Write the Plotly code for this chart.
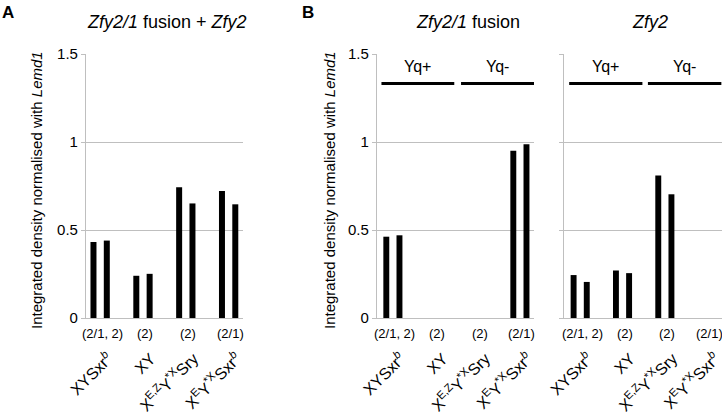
import plotly.graph_objects as go

# ---------------- data ----------------
genotypes = [
    "XYSxr<sup><i>b</i></sup>",
    "XY",
    "X<sup>E,Z</sup>Y<sup>*X</sup>Sry",
    "X<sup>E</sup>Y<sup>*X</sup>Sxr<sup><i>b</i></sup>",
]
counts_A = ["(2/1, 2)", "(2)", "(2)", "(2/1)"]
counts_B = ["(2/1, 2)", "(2)", "(2)", "(2/1)"]

# Panel A: Zfy2/1 fusion + Zfy2 (two replicates)
A_rep1 = [0.432, 0.240, 0.743, 0.722]
A_rep2 = [0.440, 0.251, 0.651, 0.646]
# Panel B left: Zfy2/1 fusion
Bf_rep1 = [0.462, 0.0, 0.0, 0.950]
Bf_rep2 = [0.470, 0.0, 0.0, 0.987]
# Panel B right: Zfy2
Bz_rep1 = [0.244, 0.270, 0.810, 0.0]
Bz_rep2 = [0.205, 0.255, 0.703, 0.0]

yticks = [0, 0.5, 1, 1.5]
ytick_text = ["0", "0.5", "1", "1.5"]
yq_groups = [("Yq+", 0, 1), ("Yq-", 2, 3)]

FONT = "Liberation Sans, Arial, sans-serif"
GRID = "#bfbfbf"

fig = go.Figure()
idx = list(range(len(genotypes)))

panels = [
    ("x", "y", A_rep1, A_rep2),
    ("x2", "y2", Bf_rep1, Bf_rep2),
    ("x3", "y3", Bz_rep1, Bz_rep2),
]
for xa, ya, r1, r2 in panels:
    for r in (r1, r2):
        fig.add_trace(go.Bar(x=idx, y=r, xaxis=xa, yaxis=ya, marker_color="black",
                             marker_line_width=0, showlegend=False, hoverinfo="skip"))

ydom = [0.2392, 0.8708]
xdoms = [[0.119, 0.3366], [0.522, 0.7396], [0.781, 1.0]]
xranges = [[-0.332, 3.336], [-0.378, 3.333], [-0.385, 3.35]]

layout = dict(
    width=722, height=418,
    margin=dict(l=0, r=0, t=0, b=0, autoexpand=False),
    paper_bgcolor="white", plot_bgcolor="white",
    barmode="group", bargap=0.378, bargroupgap=0.55,
    font=dict(family=FONT, color="black"),
)
for i in range(3):
    sx = "" if i == 0 else str(i + 1)
    layout["xaxis" + sx] = dict(
        domain=xdoms[i], range=xranges[i], anchor="y" + sx, automargin=False,
        tickmode="array", tickvals=idx, ticktext=genotypes, tickangle=-45,
        tickfont=dict(size=16, family=FONT, color="black"),
        ticks="", showgrid=False, zeroline=False,
        showline=True, linecolor=GRID, linewidth=1,
        ticklabelstandoff=24, ticklabelshift=8, ticklabeloverflow="allow",
    )
    layout["yaxis" + sx] = dict(
        domain=ydom, range=[0, 1.5], anchor="x" + sx, automargin=False,
        tickmode="array", tickvals=yticks, ticktext=ytick_text,
        showticklabels=(i != 2),
        tickfont=dict(size=15, family=FONT, color="black"),
        showgrid=True, gridcolor=GRID, gridwidth=1,
        zeroline=False, showline=True, linecolor=GRID, linewidth=1,
        ticks="outside", ticklen=4, tickcolor=GRID,
    )
fig.update_layout(**layout)

annotations = []
# count labels
for i, cnts in enumerate([counts_A, counts_B, counts_B]):
    sx = "" if i == 0 else str(i + 1)
    for j, c in enumerate(cnts):
        annotations.append(dict(x=j, y=0.201, xref="x" + sx, yref="paper", text=c,
                                showarrow=False, xshift=2, xanchor="center", yanchor="middle",
                                font=dict(size=13, family=FONT, color="black")))

# titles
titles = [
    (167 / 722, "<i>Zfy2/1</i> fusion + <i>Zfy2</i>"),
    (468 / 722, "<i>Zfy2/1</i> fusion"),
    (650 / 722, "<i>Zfy2</i>"),
]
for x, t in titles:
    annotations.append(dict(x=x, y=1 - 22 / 418, xref="paper", yref="paper", text=t,
                            xanchor="center", yanchor="middle",
                            showarrow=False, font=dict(size=18, family=FONT, color="black")))

# panel letters
for x, t in [(0.0, "A"), (300 / 722, "B")]:
    annotations.append(dict(x=x, y=1 - 1 / 418, xref="paper", yref="paper", text="<b>%s</b>" % t,
                            xanchor="left", yanchor="top", showarrow=False,
                            font=dict(size=17, family=FONT, color="black")))

# y-axis titles
for x in [36 / 722, 329 / 722]:
    annotations.append(dict(x=x, y=1 - 190 / 418, xref="paper", yref="paper",
                            text="Integrated density normalised with <i>Lemd1</i>",
                            textangle=-90, showarrow=False, xanchor="center", yanchor="middle",
                            font=dict(size=15, family=FONT, color="black")))

# Yq brackets in panel B
shapes = []
for sx, ext in [("2", [(-0.27, 0.45), (-0.39, 0.34)]), ("3", [(-0.26, 0.47), (-0.40, 0.335)])]:
    for (label, s, e), (lo, hi) in zip(yq_groups, ext):
        x0, x1 = s + lo, e + hi
        shapes.append(dict(type="line", xref="x" + sx, yref="y" + sx, x0=x0, x1=x1,
                           y0=1.332, y1=1.332, line=dict(color="black", width=3)))
        annotations.append(dict(x=(x0 + x1) / 2, y=1.43, xref="x" + sx, yref="y" + sx,
                                text=label, showarrow=False, xanchor="center",
                                font=dict(size=16, family=FONT, color="black")))

fig.update_layout(annotations=annotations, shapes=shapes)
fig.write_html(
    "out.html",
    config={"displayModeBar": False},
    post_script="document.body.style.margin='0';document.body.style.overflow='hidden';",
)
